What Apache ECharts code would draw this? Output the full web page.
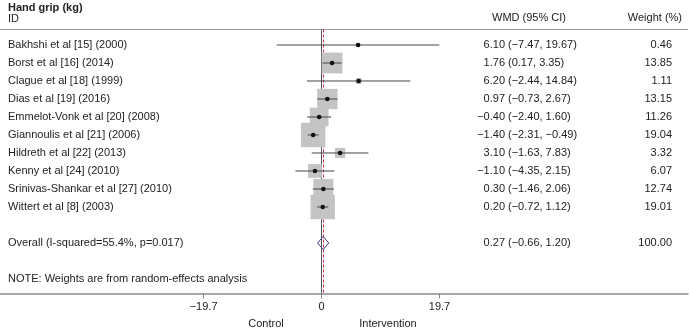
<!DOCTYPE html>
<html>
<head>
<meta charset="utf-8">
<script src="https://cdn.jsdelivr.net/npm/echarts@6/dist/echarts.min.js"></script>
<style>
html, body { margin: 0; padding: 0; background: #fff; }
#chart { width: 690px; height: 329px; }
</style>
</head>
<body>
<div id="chart"></div>
<script>
// studies, effect estimates (WMD), 95% CI bounds and weights
var studies = [
    'Bakhshi et al [15] (2000)',
    'Borst et al [16] (2014)',
    'Clague et al [18] (1999)',
    'Dias et al [19] (2016)',
    'Emmelot-Vonk et al [20] (2008)',
    'Giannoulis et al [21] (2006)',
    'Hildreth et al [22] (2013)',
    'Kenny et al [24] (2010)',
    'Srinivas-Shankar et al [27] (2010)',
    'Wittert et al [8] (2003)'
];
var wmd = [6.10, 1.76, 6.20, 0.97, -0.40, -1.40, 3.10, -1.10, 0.30, 0.20];
var ciLow = [-7.47, 0.17, -2.44, -0.73, -2.40, -2.31, -1.63, -4.35, -1.46, -0.72];
var ciHigh = [19.67, 3.35, 14.84, 2.67, 1.60, -0.49, 7.83, 2.15, 2.06, 1.12];
var weights = [0.46, 13.85, 1.11, 13.15, 11.26, 19.04, 3.32, 6.07, 12.74, 19.01];

var overallLabel = 'Overall (I-squared=55.4%, p=0.017)';
var overall = [0.27, -0.66, 1.20, 100.00]; // est, low, high, weight
var tickValues = [-19.7, 0, 19.7];

var FONT = '11px "Liberation Sans", Arial, sans-serif';
var TXT = '#222';

function fmt(v) {
    return (v < 0 ? '\u2212' : '') + Math.abs(v).toFixed(2);
}

// WMD text: first number right-aligned, bracket part left-aligned after it
function wmdTexts(y, e, l, h) {
    return [
        { type: 'text', style: { text: fmt(e), x: 505, y: y, textAlign: 'right', textVerticalAlign: 'middle', font: FONT, fill: TXT } },
        { type: 'text', style: { text: '(' + fmt(l) + ', ' + fmt(h) + ')', x: 508, y: y, textAlign: 'left', textVerticalAlign: 'middle', font: FONT, fill: TXT } }
    ];
}

var rowData = studies.map(function (s, i) {
    return [i, wmd[i], ciLow[i], ciHigh[i], weights[i]];
});
var overallRow = 11;
var noteRow = 13;

var chart = echarts.init(document.getElementById('chart'));
var option = {
    animation: false,
    grid: { left: 0, right: 2, top: 29.5, bottom: 35.5 },
    xAxis: {
        type: 'value',
        position: 'bottom',
        min: -53.7,
        max: 61.2,
        splitLine: { show: false },
        axisLine: { show: true, onZero: false, lineStyle: { color: '#8a8a8a', width: 1.5 } },
        axisTick: { show: true, customValues: tickValues, length: 5, lineStyle: { color: '#8a8a8a', width: 1 } },
        axisLabel: {
            customValues: tickValues,
            margin: 8,
            fontSize: 11,
            fontFamily: '"Liberation Sans", Arial, sans-serif',
            color: TXT,
            formatter: function (v) { return v === 0 ? '0' : (v < 0 ? '\u2212' : '') + Math.abs(v).toFixed(1); }
        }
    },
    yAxis: {
        type: 'value',
        inverse: true,
        min: -0.861,
        max: 13.806,
        show: false
    },
    series: [
        {
            // reference lines: header rule, null line, overall dashed line
            type: 'line',
            data: [],
            z: 1,
            silent: true,
            markLine: {
                z: 1,
                symbol: 'none',
                label: { show: false },
                silent: true,
                data: [
                    { yAxis: -0.861, lineStyle: { color: '#9a9a9a', width: 1, type: 'solid' } },
                    { xAxis: 0, lineStyle: { color: '#555', width: 1, type: 'solid' } },
                    { xAxis: overall[0], lineStyle: { color: '#d0304a', width: 1, type: [3, 2] } }
                ]
            }
        },
        {
            type: 'custom',
            z: 10,
            data: rowData,
            renderItem: function (params, api) {
                var i = api.value(0);
                var e = api.coord([api.value(1), i]);
                var l = api.coord([api.value(2), i]);
                var h = api.coord([api.value(3), i]);
                var s = 5.6 * Math.sqrt(api.value(4));
                var y = e[1];
                var kids = [
                    { type: 'rect', shape: { x: e[0] - s / 2, y: y - s / 2, width: s, height: s }, style: { fill: '#c4c4c4' } },
                    { type: 'line', shape: { x1: l[0], y1: y, x2: h[0], y2: y }, style: { stroke: '#444', lineWidth: 1 } },
                    { type: 'circle', shape: { cx: e[0], cy: y, r: 2.3 }, style: { fill: '#111' } },
                    { type: 'text', style: { text: studies[i], x: 8, y: y, textAlign: 'left', textVerticalAlign: 'middle', font: FONT, fill: TXT } },
                    { type: 'text', style: { text: api.value(4).toFixed(2), x: 672, y: y, textAlign: 'right', textVerticalAlign: 'middle', font: FONT, fill: TXT } }
                ];
                return { type: 'group', children: kids.concat(wmdTexts(y, api.value(1), api.value(2), api.value(3))) };
            }
        },
        {
            type: 'custom',
            z: 10,
            data: [[overallRow].concat(overall)],
            renderItem: function (params, api) {
                var r = api.value(0);
                var e = api.coord([api.value(1), r]);
                var l = api.coord([api.value(2), r]);
                var h = api.coord([api.value(3), r]);
                var y = e[1];
                var kids = [
                    { type: 'polygon', shape: { points: [[l[0], y], [e[0], y - 6.5], [h[0], y], [e[0], y + 6.5]] }, style: { fill: 'none', stroke: '#3a3a9a', lineWidth: 1 } },
                    { type: 'text', style: { text: overallLabel, x: 8, y: y, textAlign: 'left', textVerticalAlign: 'middle', font: FONT, fill: TXT } },
                    { type: 'text', style: { text: api.value(4).toFixed(2), x: 672, y: y, textAlign: 'right', textVerticalAlign: 'middle', font: FONT, fill: TXT } }
                ];
                return { type: 'group', children: kids.concat(wmdTexts(y, api.value(1), api.value(2), api.value(3))) };
            }
        },
        {
            type: 'custom',
            z: 10,
            data: [[noteRow]],
            renderItem: function (params, api) {
                var p = api.coord([0, api.value(0)]);
                return { type: 'text', style: { text: 'NOTE: Weights are from random-effects analysis', x: 8, y: p[1], textAlign: 'left', textVerticalAlign: 'middle', font: FONT, fill: TXT } };
            }
        }
    ],
    graphic: [
        { type: 'text', left: 8, top: 2, style: { text: 'Hand grip (kg)', font: 'bold 11px "Liberation Sans", Arial, sans-serif', fill: TXT } },
        { type: 'text', left: 8, top: 13, style: { text: 'ID', font: FONT, fill: TXT } },
        { type: 'text', x: 529, y: 18, style: { text: 'WMD (95% CI)', textAlign: 'center', textVerticalAlign: 'middle', font: FONT, fill: TXT } },
        { type: 'text', x: 682, y: 18, style: { text: 'Weight (%)', textAlign: 'right', textVerticalAlign: 'middle', font: FONT, fill: TXT } },
        { type: 'text', x: 266, y: 324, style: { text: 'Control', textAlign: 'center', textVerticalAlign: 'middle', font: FONT, fill: TXT } },
        { type: 'text', x: 388, y: 324, style: { text: 'Intervention', textAlign: 'center', textVerticalAlign: 'middle', font: FONT, fill: TXT } }
    ]
};
chart.setOption(option);
</script>
</body>
</html>
